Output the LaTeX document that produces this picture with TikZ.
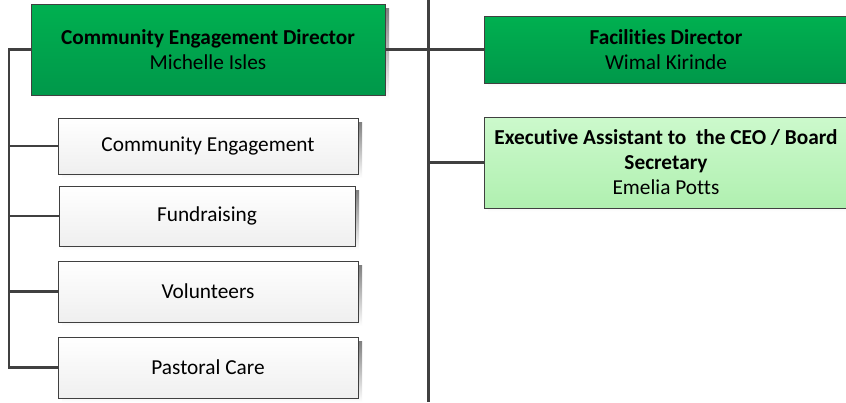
\documentclass[tikz,border=0pt]{standalone}
\usepackage{fontspec}
\setmainfont[Ligatures=NoCommon]{Carlito}
\definecolor{dgreenT}{HTML}{00B050}
\definecolor{dgreenB}{HTML}{00984A}
\definecolor{lgreenT}{HTML}{CCF9CC}
\definecolor{lgreenB}{HTML}{B0F0B0}
\definecolor{boxT}{HTML}{FFFFFF}
\definecolor{boxB}{HTML}{EFEFEF}
\definecolor{edge}{HTML}{404040}
\definecolor{shade}{HTML}{E0E0E0}
\tikzset{
  x=1pt, y=-1pt,
  base/.style={draw=edge, line width=0.9pt, inner sep=0pt, align=center,
    font=\fontsize{21.3}{25}\selectfont, text=black},
  dir/.style={base, top color=dgreenT, bottom color=dgreenB},
  asst/.style={base, top color=lgreenT, bottom color=lgreenB},
  unit/.style={base, top color=boxT, bottom color=boxB},
  conn/.style={draw=edge, line width=2.8pt},
  bus/.style={draw=edge, line width=3pt},
}
\newcommand{\shadowbox}[4]{\fill[shade] (#1+4,#2+4) rectangle (#3+4,#4+4);}
\begin{document}
\begin{tikzpicture}
\useasboundingbox (0,0) rectangle (846,402);
\fill[white] (0,0) rectangle (846,402);
% shadows
\shadowbox{31}{4}{385}{95}
\shadowbox{58}{118}{358}{174}
\shadowbox{59}{186}{355}{246}
\shadowbox{58}{261}{358}{322}
\shadowbox{58}{337}{358}{398}
\shadowbox{484}{16}{850}{83}
\shadowbox{484}{117}{850}{208}
% boxes
\node[dir, minimum width=354pt, minimum height=91pt] (ced) at (208,49.5)
  {\textbf{Community Engagement Director}\\Michelle Isles};
\node[unit, minimum width=300pt, minimum height=56pt] (ce) at (208,146) {Community Engagement};
\node[unit, minimum width=296pt, minimum height=60pt] (fr) at (207,216) {Fundraising};
\node[unit, minimum width=300pt, minimum height=61pt] (vo) at (208,291.5) {Volunteers};
\node[unit, minimum width=300pt, minimum height=61pt] (pc) at (208,367.5) {Pastoral Care};
\node[dir, minimum width=364pt, minimum height=67pt] (fd) at (666,49.5)
  {\textbf{Facilities Director}\\Wimal Kirinde};
\node[asst, minimum width=364pt, minimum height=91pt] (ea) at (666,162.5)
  {\textbf{Executive Assistant to\ \ the CEO / Board}\\\textbf{Secretary}\\Emelia Potts};
% central line
\coordinate (ctop) at (428,0);
\coordinate (cbot) at (428,402);
\draw[bus] (ctop) -- (cbot);
% left bus
\coordinate (lt) at (9,49.5);
\coordinate (lb) at (9,367.5);
\draw[conn, line cap=rect] (ced.west) -- (lt) -- (lb) -- (pc.west);
\draw[conn] (ce.west-|lt) -- (ce.west);
\draw[conn] (fr.west-|lt) -- (fr.west);
\draw[conn] (vo.west-|lt) -- (vo.west);
% right connectors
\draw[conn] (ced.east) -- (ced.east-|ctop) -- (fd.west);
\draw[conn] (ea.west-|ctop) -- (ea.west);
\end{tikzpicture}
\end{document}
